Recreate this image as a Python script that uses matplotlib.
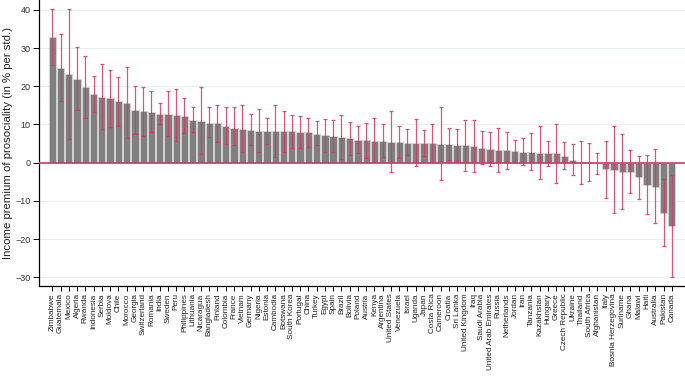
import numpy as np
import matplotlib
matplotlib.use("Agg")
import matplotlib.pyplot as plt

plt.rcParams["font.family"] = ["Liberation Sans", "DejaVu Sans"]

countries = [
    "Zimbabwe", "Guatemala", "Mexico", "Algeria", "Rwanda", "Indonesia", "Serbia",
    "Moldova", "Chile", "Morocco", "Georgia", "Switzerland", "Romania", "India",
    "Sweden", "Peru", "Philippines", "Lithuania", "Nicaragua", "Bangladesh",
    "Finland", "Colombia", "France", "Vietnam", "Germany", "Nigeria", "Estonia",
    "Cambodia", "Botswana", "South Korea", "Portugal", "China", "Turkey", "Egypt",
    "Spain", "Brazil", "Bolivia", "Poland", "Austria", "Kenya", "Argentina",
    "United States", "Venezuela", "Israel", "Uganda", "Japan", "Costa Rica",
    "Cameroon", "Croatia", "Sri Lanka", "United Kingdom", "Iraq", "Saudi Arabia",
    "United Arab Emirates", "Russia", "Netherlands", "Jordan", "Iran", "Tanzania",
    "Kazakhstan", "Hungary", "Greece", "Czech Republic", "Ukraine", "Thailand",
    "South Africa", "Afghanistan", "Italy", "Bosnia Herzegovina", "Suriname",
    "Ghana", "Malawi", "Haiti", "Australia", "Pakistan", "Canada",
]

premium = [
    32.8, 24.7, 23.1, 22.0, 19.8, 18.0, 17.2, 16.9, 16.2, 15.7, 13.7, 13.4, 13.3,
    12.8, 12.7, 12.5, 12.3, 11.2, 10.9, 10.5, 10.3, 9.6, 9.2, 8.8, 8.6, 8.3, 8.3,
    8.3, 8.2, 8.2, 8.1, 7.9, 7.6, 7.2, 7.1, 6.6, 6.4, 6.0, 5.9, 5.8, 5.8, 5.5,
    5.3, 5.2, 5.2, 5.1, 5.1, 5.0, 4.9, 4.6, 4.5, 4.3, 3.9, 3.5, 3.3, 3.2, 3.0,
    2.9, 2.8, 2.6, 2.4, 2.4, 1.8, 0.7, 0.2, 0.1, -0.2, -1.6, -1.8, -2.4, -2.4,
    -3.8, -5.8, -6.3, -13.1, -16.7,
]

ci_high = [
    40.2, 33.6, 40.2, 30.2, 28.0, 22.7, 25.8, 24.2, 22.5, 25.0, 20.0, 19.7, 18.7,
    15.7, 18.8, 19.2, 16.9, 14.5, 19.7, 14.5, 15.1, 14.5, 14.7, 15.0, 12.7, 14.0,
    11.8, 15.0, 13.6, 12.4, 12.3, 11.8, 10.8, 11.5, 11.3, 12.5, 10.6, 9.6, 10.3,
    11.6, 10.0, 13.5, 9.5, 8.7, 11.5, 8.6, 10.1, 14.5, 9.2, 8.7, 11.1, 11.1, 8.2,
    7.9, 9.2, 8.1, 5.9, 6.4, 7.7, 9.7, 5.8, 10.0, 5.5, 4.8, 5.8, 5.1, 2.5, 5.8,
    9.6, 7.6, 3.2, 1.7, 1.9, 3.5, -4.4, -3.3,
]

ci_low = [
    25.6, 16.2, 6.1, 13.8, 11.6, 13.2, 8.7, 9.3, 9.6, 6.5, 7.4, 6.9, 8.0, 10.0,
    6.9, 5.6, 7.7, 7.9, 2.2, 6.6, 5.3, 4.8, 4.6, 2.7, 4.5, 2.7, 4.8, 1.4, 2.8,
    3.8, 3.8, 4.0, 4.5, 2.9, 2.8, 0.9, 1.9, 2.4, 1.3, 0.1, 1.6, -2.4, 1.3, 1.9,
    -1.0, 1.7, 0.1, -4.5, 0.6, 0.6, -2.2, -2.5, -0.3, -1.0, -2.4, -1.7, 0.1,
    -0.7, -2.0, -4.4, -1.0, -5.4, -1.7, -3.2, -5.5, -4.9, -3.1, -9.2, -13.3,
    -12.1, -8.0, -9.6, -13.5, -15.9, -21.7, -30.0,
]

premium = np.array(premium)
x = np.arange(len(countries))
yerr = [premium - np.array(ci_low), np.array(ci_high) - premium]

fig = plt.figure(figsize=(6.85, 3.78), dpi=100)
ax = fig.add_axes([0.0574, 0.2434, 0.9426, 0.7566])

ax.grid(axis="y", color="#e6eff1", linewidth=0.8, zorder=0)
ax.bar(x, premium, width=0.88, color="#7f7f7f", edgecolor="#d9d9d9",
       linewidth=0.5, zorder=2)
ax.errorbar(x, premium, yerr=yerr, fmt="none", ecolor="#d23a64",
            elinewidth=0.9, capsize=1.2, capthick=0.9, alpha=0.85, zorder=3)
ax.axhline(0, color="#d23a64", linewidth=1.2, zorder=4)

ax.set_xlim(-1.57, 76.6)
ax.set_ylim(-32.3, 42.6)
ax.set_yticks([-30, -20, -10, 0, 10, 20, 30, 40])
ax.set_xticks(x)
ax.set_xticklabels(countries, rotation=90, fontsize=5.9, color="#222222")
ax.tick_params(axis="x", length=3.3, width=0.7, pad=2)
ax.tick_params(axis="y", length=4.3, width=0.7, labelsize=6.5, pad=2,
               labelcolor="#333333")
ax.set_ylabel("Income premium of prosociality (in % per std.)", fontsize=8.2,
              color="#222222", labelpad=2)

ax.spines["top"].set_visible(False)
ax.spines["right"].set_visible(False)
ax.spines["left"].set_linewidth(0.9)
ax.spines["bottom"].set_linewidth(0.9)

fig.savefig("out.png", dpi=100)
